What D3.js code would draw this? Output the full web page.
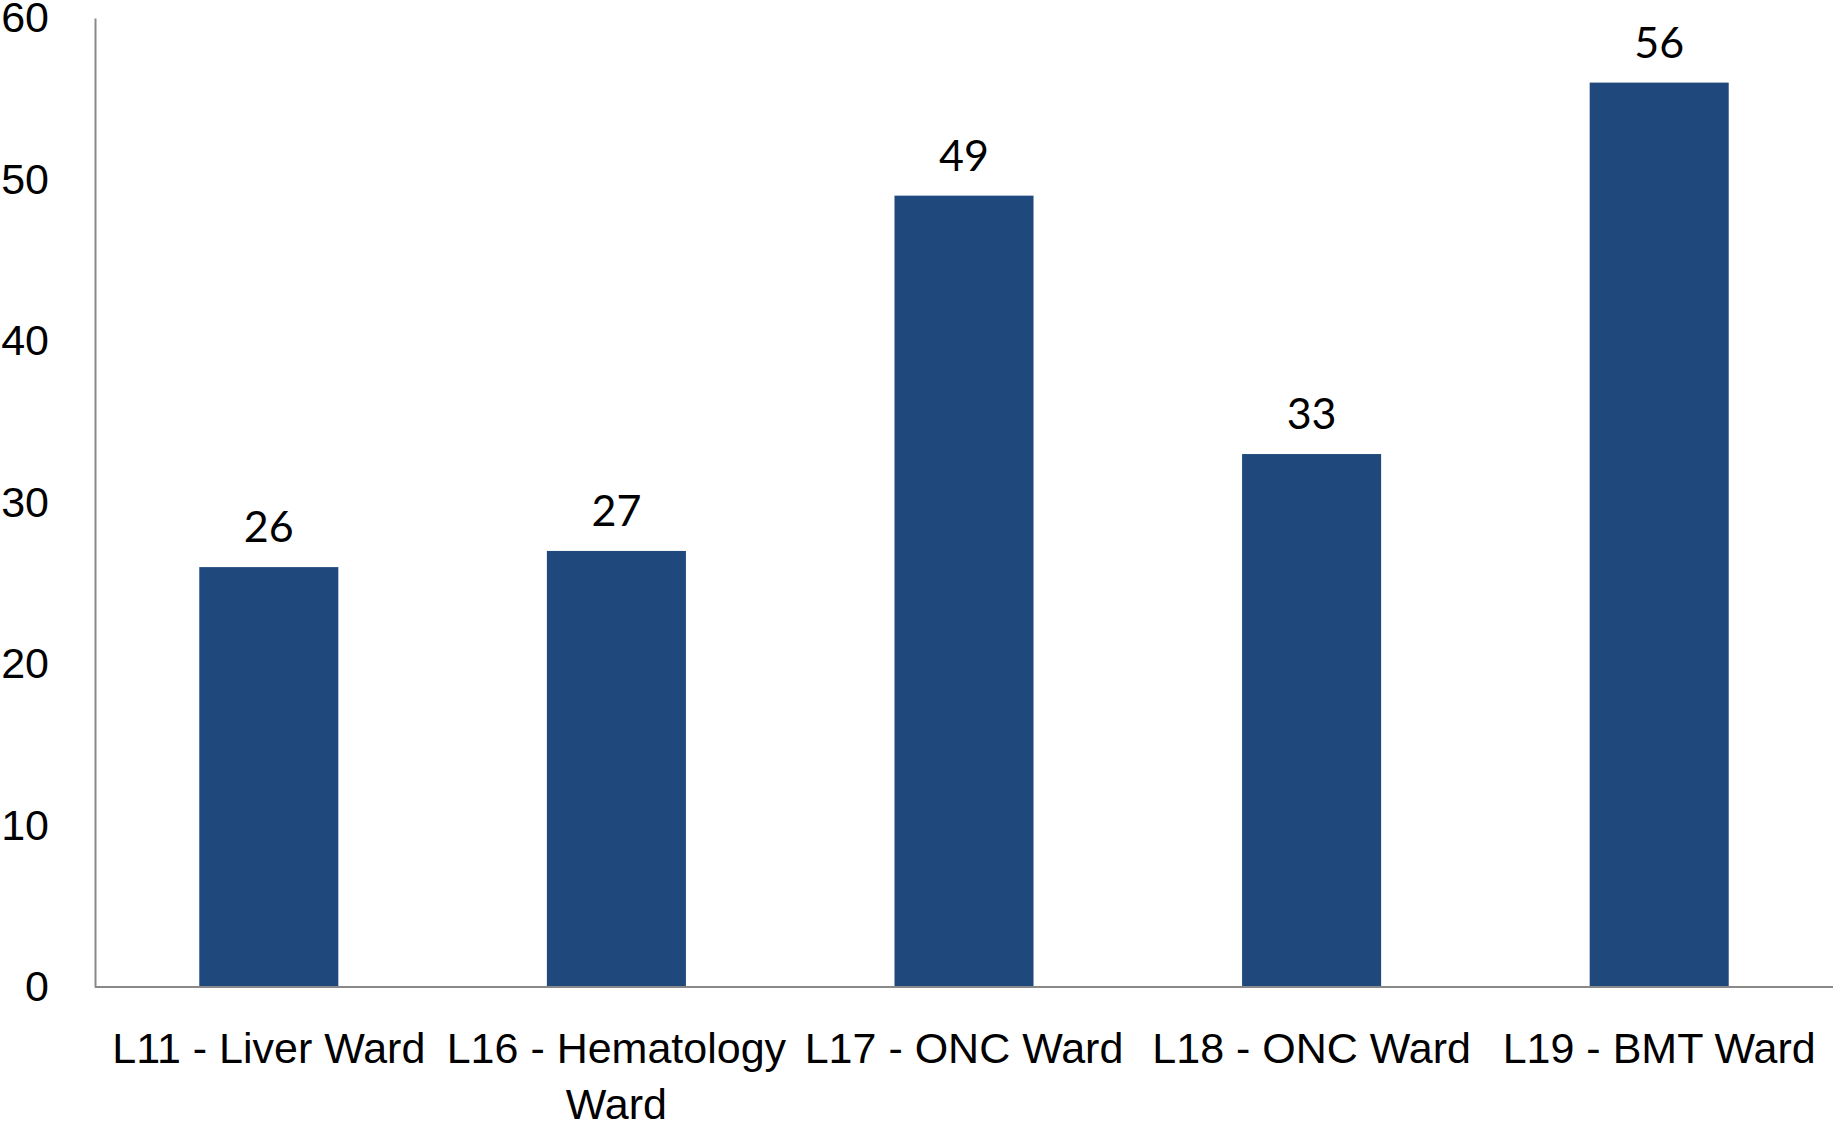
<!DOCTYPE html>
<html>
<head>
<meta charset="utf-8">
<script src="https://cdn.jsdelivr.net/npm/d3@7"></script>
<style>
  body { margin: 0; background: #fff; }
  svg { display: block; font-family: Lato, "Liberation Sans", sans-serif; }
</style>
</head>
<body>
<svg class="chart"></svg>
<script>
const wards = ['L11 - Liver Ward', 'L16 - Hematology Ward', 'L17 - ONC Ward', 'L18 - ONC Ward', 'L19 - BMT Ward'];
const counts = [26, 27, 49, 33, 56];
const yTicks = [0, 10, 20, 30, 40, 50, 60];

const width = 1833;
const height = 1125;
const margin = { top: 18, right: 0, bottom: 138, left: 95 };

const svg = d3.select('.chart')
  .attr('width', width)
  .attr('height', height);

const x = d3.scaleBand()
  .domain(wards)
  .range([margin.left, width - margin.right])
  .paddingInner(0.6)
  .paddingOuter(0.3);

const y = d3.scaleLinear()
  .domain([0, 60])
  .range([height - margin.bottom, margin.top]);

// y axis
const yAxis = svg.append('g')
  .attr('transform', `translate(${margin.left},0)`)
  .call(d3.axisLeft(y).tickValues(yTicks).tickSize(0).tickPadding(46));
yAxis.select('.domain').attr('stroke', '#898989').attr('stroke-width', 2);
yAxis.selectAll('text').attr('font-size', 43).attr('fill', '#000');

// bars
svg.append('g')
  .selectAll('rect')
  .data(counts)
  .enter()
  .append('rect')
  .attr('x', (d, i) => x(wards[i]))
  .attr('y', d => y(d))
  .attr('width', x.bandwidth())
  .attr('height', d => y(0) - y(d))
  .attr('fill', '#1f497d');

// value labels
svg.append('g')
  .selectAll('text')
  .data(counts)
  .enter()
  .append('text')
  .attr('x', (d, i) => x(wards[i]) + x.bandwidth() / 2)
  .attr('y', d => y(d) - 25)
  .attr('text-anchor', 'middle')
  .attr('font-size', 43)
  .text(d => d);

// x axis
const xAxis = svg.append('g')
  .attr('transform', `translate(0,${y(0)})`)
  .call(d3.axisBottom(x).tickSize(0).tickPadding(0));
xAxis.select('.domain')
  .attr('stroke', '#898989')
  .attr('stroke-width', 2)
  .attr('d', `M${margin.left},0H${width}`);

const step = x.step();
xAxis.selectAll('.tick text')
  .attr('font-size', 43)
  .attr('fill', '#000')
  .attr('dy', null)
  .attr('y', 76)
  .each(function(d) {
    const t = d3.select(this);
    const words = d.split(' ');
    t.text(null);
    let line = [];
    let lineNo = 0;
    let tspan = t.append('tspan').attr('x', 0).attr('y', 76);
    words.forEach(w => {
      line.push(w);
      tspan.text(line.join(' '));
      if (tspan.node().getComputedTextLength() > step - 4 && line.length > 1) {
        line.pop();
        tspan.text(line.join(' '));
        line = [w];
        lineNo += 1;
        tspan = t.append('tspan').attr('x', 0).attr('y', 76 + lineNo * 56).text(w);
      }
    });
  });
</script>
</body>
</html>
